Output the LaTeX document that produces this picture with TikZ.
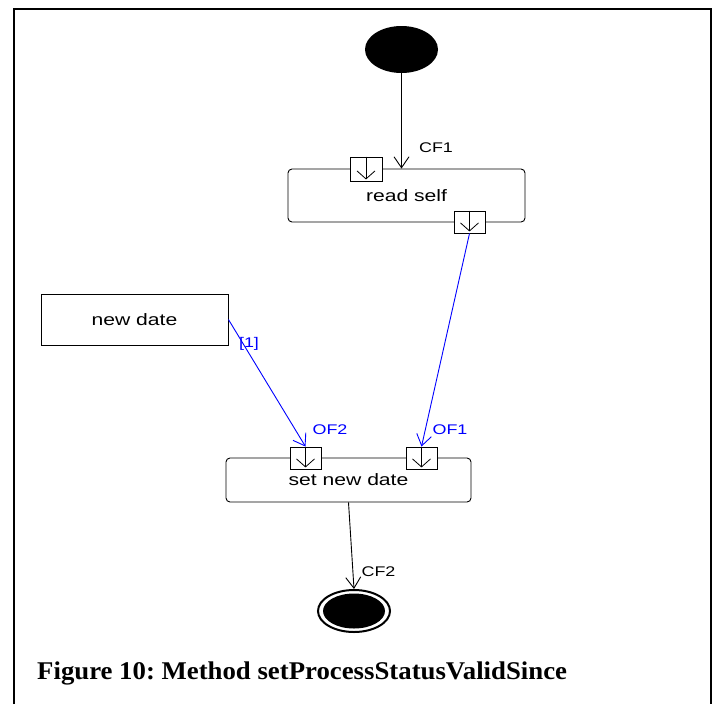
\documentclass[tikz,border=0pt]{standalone}
\usepackage{fontspec}
\setmainfont[FakeStretch=1.28]{Liberation Sans}
\newfontfamily\capfont[FakeStretch=1.05]{Liberation Serif}
\usetikzlibrary{arrows.meta,shapes.geometric}
\frenchspacing
\tikzset{
  act/.style={draw, rounded corners=4pt, line width=0.9pt, inner sep=0pt, font=\fontsize{16.5}{18}\selectfont},
  objbox/.style={draw, line width=0.9pt, inner sep=0pt, font=\fontsize{16.5}{18}\selectfont},
  pinbox/.style={draw, fill=white, minimum width=31pt, minimum height=22pt, inner sep=0pt, line width=0.9pt},
  pinarrow/.style={line width=0.8pt, -{Straight Barb[length=8pt,width=18pt]}},
  flow/.style={line width=0.9pt, -{Straight Barb[length=11pt,width=15pt]}},
  oflow/.style={flow, blue},
  lbl/.style={font=\fontsize{14}{16}\selectfont, inner sep=0pt},
  olbl/.style={lbl, text=blue}
}
\begin{document}
\begin{tikzpicture}[x=1pt,y=-1pt]
\useasboundingbox (0,0) rectangle (719,704);
\draw[line width=1.5pt] (14,704) -- (14,9) -- (711,9) -- (711,704);

% start
\node[ellipse, fill=black, minimum width=73pt, minimum height=47pt, inner sep=0pt] (start) at (401.5,49.5) {};

% read self
\node[act, minimum width=237pt, minimum height=53pt] (rs) at (406.5,195.5) {read self};
\node[pinbox, minimum width=32pt, minimum height=24pt] (rsp1) at (366,169) {};
\node[pinbox] (rsp2) at (469.5,222) {};

% new date
\node[objbox, minimum width=187pt, minimum height=51pt] (nd) at (134.5,319.5) {new date};

% set new date
\node[act, minimum width=245pt, minimum height=44pt] (sd) at (348.5,480) {set new date};
\node[pinbox] (sp2) at (305.5,458) {};
\node[pinbox] (sp1) at (421.5,458) {};

% end
\node[ellipse, draw, line width=2pt, minimum width=72pt, minimum height=42pt, inner sep=0pt] (end) at (354,611) {};
\node[ellipse, fill=black, minimum width=62pt, minimum height=35pt, inner sep=0pt] (endin) at (354,611) {};

% pin arrows
\foreach \p in {rsp1,rsp2,sp1,sp2}{
  \draw[pinarrow] (\p.north) -- ([yshift=2pt]\p.south);
}

% flows
\draw[flow] (start.south) -- (start.south |- rs.north);
\draw[oflow] (rsp2.south) -- (sp1.north);
\draw[oflow] (nd.east) -- (sp2.north);
\draw[flow] (sd.south) -- (end.north);

% labels
\node[lbl] (cf1) at (436,148) {CF1};
\node[olbl] (of1) at (450,430) {OF1};
\node[olbl] (of2) at (330,430) {OF2};
\node[olbl] (one) at (249,344) {[1]};
\node[lbl] (cf2) at (378.5,572) {CF2};

% caption
\node[anchor=base west, inner sep=0pt, font=\capfont\bfseries\fontsize{25.5}{28}\selectfont] (cap) at (37,679) {Figure 10: Method setProcessStatusValidSince};
\end{tikzpicture}
\end{document}
